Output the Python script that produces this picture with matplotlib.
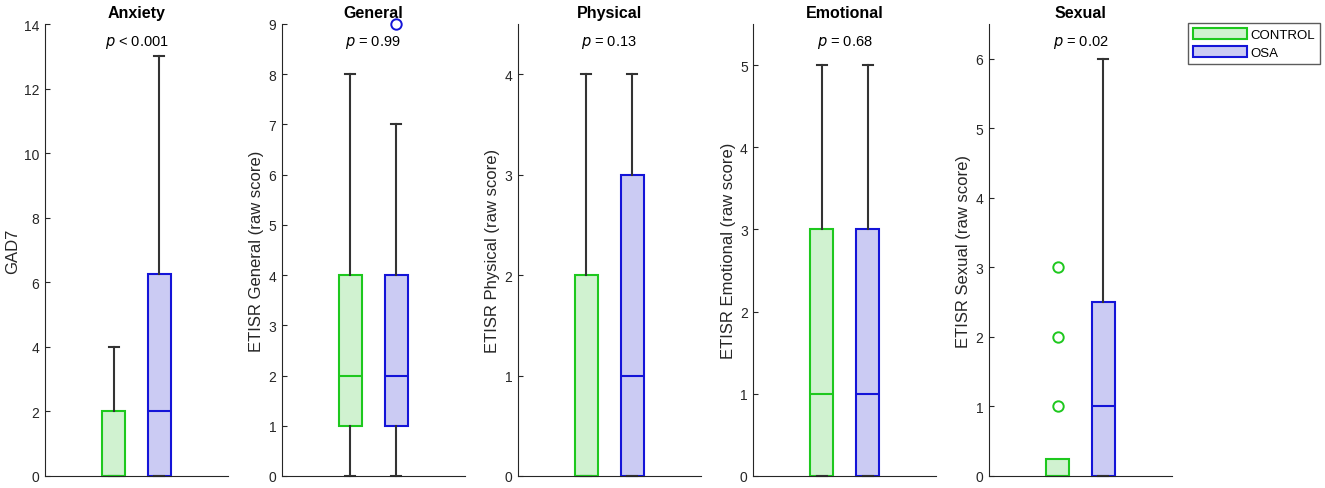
import matplotlib
matplotlib.use("Agg")
import matplotlib.pyplot as plt
from matplotlib.patches import Patch

plt.rcParams['font.family'] = ['Liberation Sans', 'DejaVu Sans']

titles = ["Anxiety", "General", "Physical", "Emotional", "Sexual"]
ylabels = ["GAD7", "ETISR General (raw score)", "ETISR Physical (raw score)",
           "ETISR Emotional (raw score)", "ETISR Sexual (raw score)"]
pvals = ["< 0.001", "= 0.99", "= 0.13", "= 0.68", "= 0.02"]
ytops = [14, 9, 4.5, 5.5, 6.5]
yticks = [[0, 2, 4, 6, 8, 10, 12, 14], list(range(0, 10)), [0, 1, 2, 3, 4],
          [0, 1, 2, 3, 4, 5], [0, 1, 2, 3, 4, 5, 6]]
groups = ["CONTROL", "OSA"]

# box statistics: (whislo, q1, med, q3, whishi)
control_stats = [(0, 0, 0, 2, 4), (0, 1, 2, 4, 8), (0, 0, 0, 2, 4),
                 (0, 0, 1, 3, 5), (0, 0, 0, 0.25, 0.25)]
osa_stats = [(0, 0, 2, 6.25, 13), (0, 1, 2, 4, 7), (0, 0, 1, 3, 4),
             (0, 0, 1, 3, 5), (0, 0, 1, 2.5, 6)]
control_fliers = [[], [], [], [], [1, 2, 3]]
osa_fliers = [[], [9], [], [], []]

edge_colors = ["#1ec81e", "#1414d8"]
face_colors = ["#d0f2d0", "#cbcbf3"]
whisk_col = "#333333"
ax_col = "#262626"

fig = plt.figure(figsize=(13.25, 4.89), dpi=100)
lefts = [45, 281.7, 517.7, 753.3, 989]
W, H = 1325, 489
for i in range(5):
    ax = fig.add_axes([lefts[i] / W, 12 / H, 183 / W, 452 / H])
    for g, (stats, fl) in enumerate([(control_stats[i], control_fliers[i]),
                                     (osa_stats[i], osa_fliers[i])]):
        lo, q1, med, q3, hi = stats
        d = dict(whislo=lo, q1=q1, med=med, q3=q3, whishi=hi, fliers=fl, label=groups[g])
        ax.bxp([d], positions=[g + 1], widths=0.5, patch_artist=True,
               showcaps=(hi > q3), capwidths=0.22,
               boxprops=dict(facecolor=face_colors[g], edgecolor=edge_colors[g], linewidth=1.5),
               medianprops=dict(color=edge_colors[g], linewidth=1.5),
               whiskerprops=dict(color=whisk_col, linewidth=1.5),
               capprops=dict(color=whisk_col, linewidth=1.5),
               flierprops=dict(marker='o', markerfacecolor='none',
                               markeredgecolor=edge_colors[g], markersize=7.5,
                               markeredgewidth=1.4, linestyle='none'),
               manage_ticks=False)
    for art in ax.get_children():
        try:
            art.set_clip_on(False)
        except Exception:
            pass
    ax.set_xlim(-0.5, 3.5)
    ax.set_ylim(0, ytops[i])
    ax.set_yticks(yticks[i])
    ax.set_xticks([])
    for s in ["top", "right"]:
        ax.spines[s].set_visible(False)
    for s in ["left", "bottom"]:
        ax.spines[s].set_color(ax_col)
        ax.spines[s].set_linewidth(0.8)
    ax.tick_params(axis='y', direction='in', length=3.5, width=0.8, colors=ax_col,
                   labelsize=10, pad=4)
    ax.set_ylabel(ylabels[i], fontsize=12, color=ax_col, labelpad=3)
    ax.set_title(titles[i], fontsize=11.5, fontweight='bold', pad=5)
    ax.text(0.5, 0.962, r"$\it{p}$ " + pvals[i], transform=ax.transAxes,
            ha='center', va='center', fontsize=10.5, color='black')
    ax.patch.set_alpha(0)

handles = [Patch(facecolor=face_colors[g], edgecolor=edge_colors[g], linewidth=1.5,
                 label=groups[g]) for g in range(2)]
leg = fig.legend(handles=handles, loc='upper right', bbox_to_anchor=(1320 / W, 465 / H),
                 bbox_transform=fig.transFigure, fontsize=9.5, frameon=True,
                 fancybox=False, borderpad=0.35, handlelength=4.1, handleheight=1.0,
                 handletextpad=0.3, labelspacing=0.35, borderaxespad=0)
leg.get_frame().set_edgecolor("#333333")
leg.get_frame().set_linewidth(1.0)

fig.savefig("out.png", dpi=100)
